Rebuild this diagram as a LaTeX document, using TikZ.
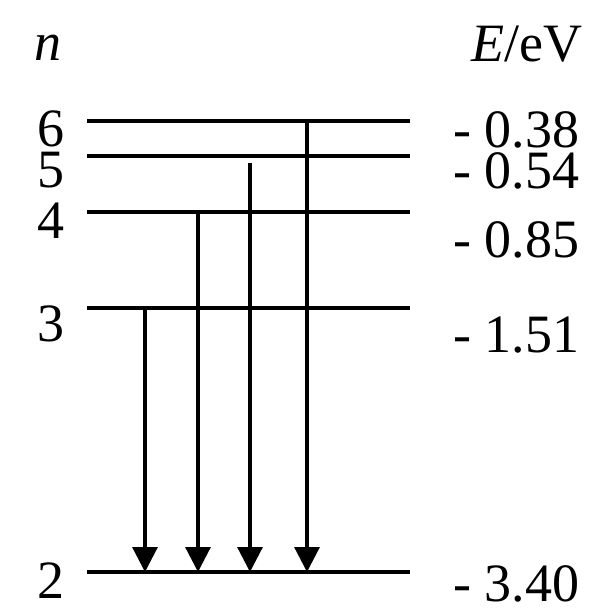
\documentclass[tikz,border=0pt]{standalone}
\usepackage{fontspec}
\setmainfont{Liberation Serif}
\usetikzlibrary{arrows.meta}
\tikzset{
  level/.style={line width=4.2pt},
  trans/.style={line width=3.2pt,-{Triangle[length=25pt,width=25pt]}},
  lab/.style={font=\fontsize{54}{54}\selectfont,inner sep=0pt,text depth=0pt},
}
\begin{document}
\begin{tikzpicture}[x=1pt,y=-1pt]
\useasboundingbox (0,0) rectangle (608,608);
% levels
\coordinate (L6a) at (87,121); \coordinate (L6b) at (410,121);
\coordinate (L5a) at (87,156); \coordinate (L5b) at (410,156);
\coordinate (L4a) at (87,212); \coordinate (L4b) at (410,212);
\coordinate (L3a) at (87,308); \coordinate (L3b) at (410,308);
\coordinate (L2a) at (87,572); \coordinate (L2b) at (410,572);
\draw[level] (L6a) -- (L6b);
\draw[level] (L5a) -- (L5b);
\draw[level] (L4a) -- (L4b);
\draw[level,line width=3.4pt] (L3a) -- (L3b);
\draw[level] (L2a) -- (L2b);
% transitions
\coordinate (t3s) at (145,308); \coordinate (t3e) at (145,572);
\coordinate (t4s) at (198,212); \coordinate (t4e) at (198,572);
\coordinate (t5s) at (250,163); \coordinate (t5e) at (250,572);
\coordinate (t6s) at (307,121); \coordinate (t6e) at (307,572);
\draw[trans] (t3s) -- (t3e);
\draw[trans] (t4s) -- (t4e);
\draw[trans] (t5s) -- (t5e);
\draw[trans] (t6s) -- (t6e);
% headers
\node[lab,anchor=base] (hn) at (48,60) {\textit{n}};
\node[lab,anchor=base east] (hE) at (583,61) {\textit{E}/eV};
% n labels
\node[lab,anchor=base] (n6) at (51,146) {6};
\node[lab,anchor=base] (n5) at (51,187) {5};
\node[lab,anchor=base] (n4) at (51,238) {4};
\node[lab,anchor=base] (n3) at (51,341) {3};
\node[lab,anchor=base] (n2) at (51,598) {2};
% energy labels
\node[lab,anchor=base west] (e6) at (453,147) {- 0.38};
\node[lab,anchor=base west] (e5) at (453,188) {- 0.54};
\node[lab,anchor=base west] (e4) at (453,257) {- 0.85};
\node[lab,anchor=base west] (e3) at (453,352) {- 1.51};
\node[lab,anchor=base west] (e2) at (453,601) {- 3.40};
\end{tikzpicture}
\end{document}
